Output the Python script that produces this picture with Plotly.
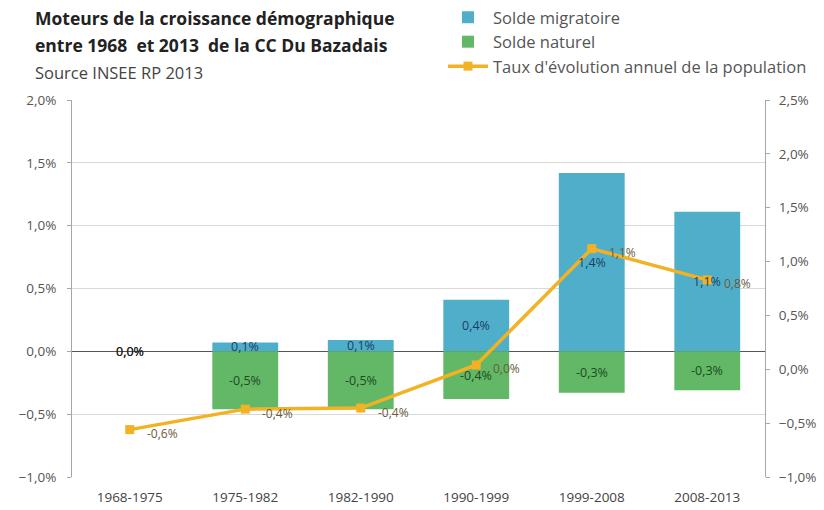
import plotly.graph_objects as go

# Périodes intercensitaires
periodes = ["1968-1975", "1975-1982", "1982-1990", "1990-1999", "1999-2008", "2008-2013"]
# Composantes de la variation annuelle (en %)
solde_migratoire = [0.0, 0.07, 0.09, 0.41, 1.42, 1.11]
solde_naturel = [0.0, -0.46, -0.46, -0.38, -0.33, -0.31]
# Taux d'évolution annuel de la population (en %)
taux_evolution = [-0.56, -0.37, -0.36, 0.04, 1.12, 0.83]

BLUE = "#4FAFCB"
GREEN = "#62B866"
GOLD = "#F2B224"
FONT = "'Open Sans', Lato, sans-serif"


def fr(v):
    return f"{v:.1f}".replace(".", ",") + "%"


fig = go.Figure()

fig.add_trace(go.Bar(
    x=periodes, y=solde_migratoire, name="Solde migratoire", legendgroup="a",
    marker=dict(color=BLUE, line=dict(width=0)), width=0.57, yaxis="y",
))
fig.add_trace(go.Bar(
    x=periodes, y=solde_naturel, name="Solde naturel", legendgroup="b",
    marker=dict(color=GREEN, line=dict(width=0)), width=0.57, yaxis="y",
))
fig.add_trace(go.Scatter(
    x=periodes, y=taux_evolution, name="Taux d'évolution annuel de la population",
    legendgroup="c", mode="lines+markers", yaxis="y2",
    line=dict(color=GOLD, width=3.5),
    marker=dict(symbol="square", size=9, color=GOLD),
))

annotations = []
# Étiquettes des barres, au centre de chaque segment
for serie, col in ((solde_migratoire, "#1D3F5E"), (solde_naturel, "#1F4A22")):
    for p, v in zip(periodes, serie):
        annotations.append(dict(
            x=p, y=v / 2, xref="x", yref="y", text=fr(v), showarrow=False,
            font=dict(family=FONT, size=12.5, color=col if v != 0 else "#222222"),
        ))
# Étiquettes de la courbe, à droite des points
for p, v in zip(periodes, taux_evolution):
    annotations.append(dict(
        x=p, y=v, xref="x", yref="y2", text=fr(v), showarrow=False,
        xanchor="left", xshift=15, yshift=-4,
        font=dict(family=FONT, size=12, color="#6B5A3A"),
    ))

# Titre et source
annotations += [
    dict(x=33, y=18, xref="paper", yref="paper", text="<b>Moteurs de la croissance démographique</b>",
         showarrow=False, xanchor="left", yanchor="middle", font=dict(family=FONT, size=17.5, color="#222222")),
    dict(x=33, y=45, xref="paper", yref="paper", text="<b>entre 1968  et 2013  de la CC Du Bazadais</b>",
         showarrow=False, xanchor="left", yanchor="middle", font=dict(family=FONT, size=17.5, color="#222222")),
    dict(x=33, y=72, xref="paper", yref="paper", text="Source INSEE RP 2013",
         showarrow=False, xanchor="left", yanchor="middle", font=dict(family=FONT, size=16.5, color="#444444")),
]

# Conversion des positions en pixels vers les coordonnées "paper"
L, R, T, B = 72, 59, 100, 33
W, H = 824, 510
pw, ph = W - L - R, H - T - B
for a in annotations:
    if a["xref"] == "paper":
        a["x"] = (a["x"] - L) / pw
        a["y"] = 1 + (T - a["y"]) / ph

fig.update_layout(
    width=W, height=H,
    margin=dict(l=L, r=R, t=T, b=B, autoexpand=False),
    paper_bgcolor="white", plot_bgcolor="white",
    barmode="relative", bargap=0.43,
    separators=", ",
    font=dict(family=FONT, size=12, color="#555555"),
    showlegend=True,
    legend=dict(
        x=(443 - L) / pw, y=1 + (T - 0) / ph, xanchor="left", yanchor="top",
        font=dict(family=FONT, size=16.5, color="#555555"),
        tracegroupgap=0, itemwidth=40, bgcolor="rgba(0,0,0,0)",
    ),
    xaxis=dict(
        showgrid=False, showline=False, ticks="", ticklabelstandoff=10,
        tickfont=dict(family=FONT, size=13.5, color="#444444"),
        range=[-0.5, 5.5],
    ),
    yaxis=dict(
        range=[-1, 2], dtick=0.5, tickformat=".1f", ticksuffix="%",
        showgrid=True, gridcolor="#D9D9D9", gridwidth=1,
        zeroline=True, zerolinecolor="#555555", zerolinewidth=1.2,
        showline=True, linecolor="#A6A6A6", ticks="outside", ticklen=4, tickcolor="#A6A6A6",
        ticklabelstandoff=8,
        tickfont=dict(family=FONT, size=13.5, color="#555555"),
    ),
    yaxis2=dict(
        range=[-1, 2.5], dtick=0.5, tickformat=".1f", ticksuffix="%",
        overlaying="y", side="right", showgrid=False, zeroline=False,
        showline=True, linecolor="#A6A6A6", ticks="outside", ticklen=4, tickcolor="#A6A6A6",
        ticklabelstandoff=6,
        tickfont=dict(family=FONT, size=13.5, color="#555555"),
    ),
    annotations=annotations,
)

fig.write_html("out.html")
